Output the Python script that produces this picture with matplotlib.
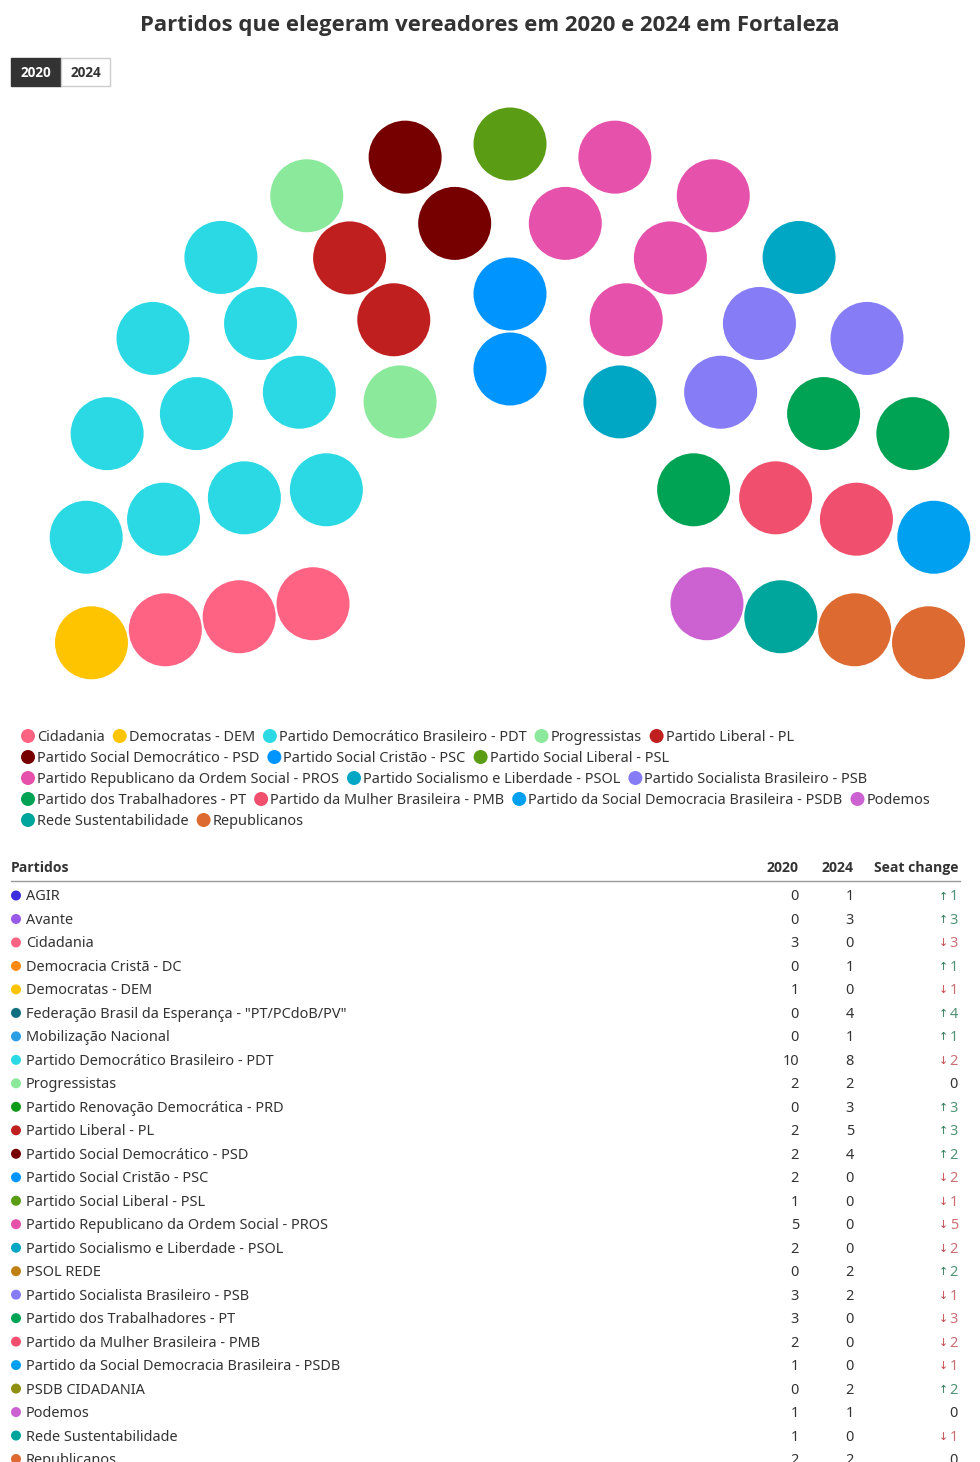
import matplotlib
matplotlib.use('Agg')
import matplotlib.pyplot as plt
from matplotlib.patches import Circle, Rectangle
import numpy as np

# ---------------- data ----------------
parties = [
    "AGIR", "Avante", "Cidadania", "Democracia Cristã - DC", "Democratas - DEM",
    "Federação Brasil da Esperança - \"PT/PCdoB/PV\"", "Mobilização Nacional",
    "Partido Democrático Brasileiro - PDT", "Progressistas",
    "Partido Renovação Democrática - PRD", "Partido Liberal - PL",
    "Partido Social Democrático - PSD", "Partido Social Cristão - PSC",
    "Partido Social Liberal - PSL", "Partido Republicano da Ordem Social - PROS",
    "Partido Socialismo e Liberdade - PSOL", "PSOL REDE",
    "Partido Socialista Brasileiro - PSB", "Partido dos Trabalhadores - PT",
    "Partido da Mulher Brasileira - PMB", "Partido da Social Democracia Brasileira - PSDB",
    "PSDB CIDADANIA", "Podemos", "Rede Sustentabilidade", "Republicanos",
]
party_colors = [
    "#3b2fe0", "#9a5ae8", "#ff6384", "#ff8a12", "#ffc400",
    "#11707f", "#2b9fe6",
    "#2bd9e4", "#8ae99a",
    "#0f9a1a", "#c01f1f",
    "#760000", "#0094ff",
    "#5a9c13", "#e651ab",
    "#00a7c4", "#c07f12",
    "#857cf6", "#00a354",
    "#f0506e", "#00a0f0",
    "#8f8f12", "#cc62d1", "#00a69b", "#dc6a31",
]
seats_2020 = [0, 0, 3, 0, 1, 0, 0, 10, 2, 0, 2, 2, 2, 1, 5, 2, 0, 3, 3, 2, 1, 0, 1, 1, 2]
seats_2024 = [1, 3, 0, 1, 0, 4, 1, 8, 2, 3, 5, 4, 0, 0, 0, 0, 2, 2, 0, 0, 0, 2, 1, 0, 2]

title = "Partidos que elegeram vereadores em 2020 e 2024 em Fortaleza"
years = ["2020", "2024"]
table_header = ["Partidos", "2020", "2024", "Seat change"]

# ---------------- setup ----------------
FONT = ['Noto Sans', 'DejaVu Sans']
BOLD = ['Open Sans', 'DejaVu Sans']
plt.rcParams['font.family'] = FONT
TXT = '#333333'

W, H = 980, 1462
fig = plt.figure(figsize=(W / 100, H / 100), dpi=100)
ax = fig.add_axes([0, 0, 1, 1])
ax.set_xlim(0, W)
ax.set_ylim(H, 0)
ax.axis('off')


def fs(p):  # pixel size -> points
    return p * 72 / 100


BODY = 14.5

# ---------------- title ----------------
ax.text(490, 25, title, ha='center', va='center', fontsize=fs(22.2),
        fontweight='bold', color=TXT, family=BOLD)

# ---------------- year toggle ----------------
ax.add_patch(Rectangle((11, 58), 50, 28, facecolor='#333333', edgecolor='#333333', lw=1))
ax.add_patch(Rectangle((61, 58), 49, 28, facecolor='white', edgecolor='#cccccc', lw=1))
ax.text(36, 73, years[0], ha='center', va='center', fontsize=fs(13.5),
        fontweight='bold', color='white', family=BOLD)
ax.text(85.5, 73, years[1], ha='center', va='center', fontsize=fs(13.5),
        fontweight='bold', color=TXT, family=BOLD)

# ---------------- parliament (2020) ----------------
leg_idx = [i for i, s in enumerate(seats_2020) if s > 0]
cx, cy = 510, 569
radii = np.array([200, 275, 350, 425])
total = sum(seats_2020)
raw = radii / radii.sum() * total
counts = np.floor(raw).astype(int)
rem = total - counts.sum()
counts[np.argsort(-(raw - counts))[:rem]] += 1

a_start, a_end = 190.0, -10.0
seat_pos = []
for r, n in zip(radii, counts):
    for k in range(n):
        a = a_start + (a_end - a_start) * k / (n - 1)
        seat_pos.append((round(a, 6), r))
seat_pos.sort(key=lambda s: (-s[0], s[1]))

seat_colors = []
for i in leg_idx:
    seat_colors += [party_colors[i]] * seats_2020[i]

for (a, r), c in zip(seat_pos, seat_colors):
    t = np.deg2rad(a)
    ax.add_patch(Circle((cx + r * np.cos(t), cy - r * np.sin(t)), 36.5,
                        facecolor=c, edgecolor='none'))

# ---------------- legend ----------------
fig.canvas.draw()
renderer = fig.canvas.get_renderer()
x0, y, row_h, xmax = 21, 736, 21, 950
x = x0
for i in leg_idx:
    t = ax.text(0, 0, parties[i], fontsize=fs(BODY), color=TXT, va='center')
    w = t.get_window_extent(renderer).width
    if x + 16 + w > xmax:
        x = x0
        y += row_h
    ax.add_patch(Circle((x + 7, y), 7, facecolor=party_colors[i], edgecolor='none'))
    t.set_position((x + 16, y + 1.5))
    x = x + 16 + w + 8

# ---------------- table ----------------
hy = 868
hdr = dict(va='center', fontsize=fs(14), fontweight='bold', color=TXT, family=BOLD)
ax.text(11, hy, table_header[0], ha='left', **hdr)
ax.text(799, hy, table_header[1], ha='right', **hdr)
ax.text(854, hy, table_header[2], ha='right', **hdr)
ax.text(958, hy, table_header[3], ha='right', **hdr)
ax.plot([11, 960], [880.5, 880.5], color='#999999', lw=1)

y0, dy = 895.5, 23.48
for j, (p, c, a, b) in enumerate(zip(parties, party_colors, seats_2020, seats_2024)):
    yy = y0 + j * dy
    ty = yy + 1.5
    ax.add_patch(Circle((16, yy), 5, facecolor=c, edgecolor='none'))
    ax.text(26, ty, p, ha='left', va='center', fontsize=fs(BODY), color=TXT)
    ax.text(799, ty, str(a), ha='right', va='center', fontsize=fs(BODY), color=TXT)
    ax.text(854, ty, str(b), ha='right', va='center', fontsize=fs(BODY), color=TXT)
    d = b - a
    if d == 0:
        ax.text(958, ty, "0", ha='right', va='center', fontsize=fs(BODY), color=TXT)
    else:
        up = d > 0
        num_c = '#4f9474' if up else '#cc6f74'
        arr_c = '#2f7a57' if up else '#c8464f'
        ax.text(958, ty, str(abs(d)), ha='right', va='center', fontsize=fs(BODY), color=num_c)
        ax.text(943, yy + 1, '↑' if up else '↓', ha='center', va='center',
                fontsize=fs(11), color=arr_c, family=['DejaVu Sans'])

fig.savefig('out.png', dpi=100)
